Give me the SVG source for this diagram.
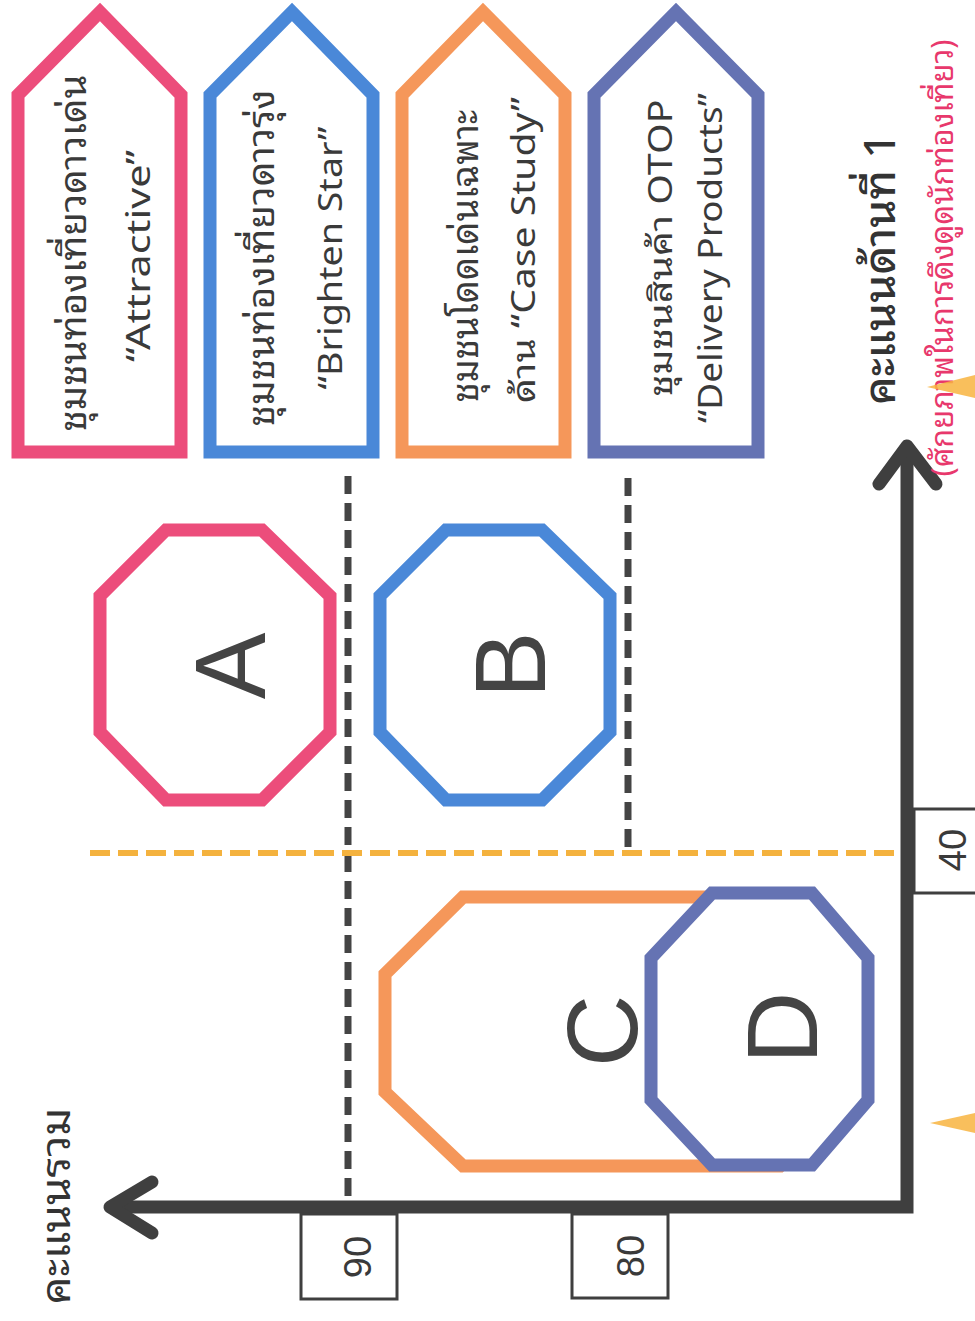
<svg xmlns="http://www.w3.org/2000/svg" width="975" height="1321" viewBox="0 0 975 1321">
<style>
.tag{fill:#fff;stroke-width:13;stroke-linejoin:miter}
.oct{fill:#fff;stroke-width:13;stroke-linejoin:miter}
.pink{stroke:#ec4d7b}
.blue{stroke:#4a88d8}
.orange{stroke:#f5975a}
.slate{stroke:#6573b3}
.t{font-family:"Noto Sans","Noto Sans Thai Looped","Noto Sans Thai","Tahoma",sans-serif;font-size:32px;fill:#3a3a3a;text-anchor:middle}
.th{font-size:37px}
.big{font-family:"Liberation Sans","Arial",sans-serif;font-size:100px;fill:#444;text-anchor:middle}
.tick{font-family:"Liberation Sans","Arial",sans-serif;font-size:38px;fill:#3a3a3a;text-anchor:middle}
.axis{stroke:#3f3f3f;stroke-width:13;fill:none}
.dash{stroke:#444;stroke-width:7;stroke-dasharray:18 9;fill:none}
.odash{stroke:#f4b23e;stroke-width:6;stroke-dasharray:20 8;fill:none}
.tbox{fill:#fff;stroke:#3f3f3f;stroke-width:3}
</style>
<rect width="975" height="1321" fill="#fff"/>

<g id="tag-attractive">
<path class="tag pink" d="M18,452 L18,95 L100,12 L181,95 L181,452 Z"/>
<text class="t th" transform="translate(86,253) rotate(-90)" textLength="357" lengthAdjust="spacingAndGlyphs">ชุมชนท่องเที่ยวดาวเด่น</text>
<text class="t" transform="translate(150,256) rotate(-90)" textLength="212" lengthAdjust="spacingAndGlyphs">“Attractive”</text>
</g>
<g id="tag-brighten">
<path class="tag blue" d="M210,452 L210,95 L292,12 L373,95 L373,452 Z"/>
<text class="t th" transform="translate(274,258) rotate(-90)" textLength="337" lengthAdjust="spacingAndGlyphs">ชุมชนท่องเที่ยวดาวรุ่ง</text>
<text class="t" transform="translate(342,258) rotate(-90)" textLength="263" lengthAdjust="spacingAndGlyphs">“Brighten Star”</text>
</g>
<g id="tag-case">
<path class="tag orange" d="M402,452 L402,95 L483,12 L565,95 L565,452 Z"/>
<text class="t th" transform="translate(478,256) rotate(-90)" textLength="293" lengthAdjust="spacingAndGlyphs">ชุมชนโดดเด่นเฉพาะ</text>
<text class="t" transform="translate(535,250) rotate(-90)" textLength="306" lengthAdjust="spacingAndGlyphs">ด้าน “Case Study”</text>
</g>
<g id="tag-delivery">
<path class="tag slate" d="M594,452 L594,95 L676,12 L758,95 L758,452 Z"/>
<text class="t" transform="translate(672,248) rotate(-90)" textLength="297" lengthAdjust="spacingAndGlyphs">ชุมชนสินค้า OTOP</text>
<text class="t" transform="translate(722,258) rotate(-90)" textLength="330" lengthAdjust="spacingAndGlyphs">“Delivery Products”</text>
</g>

<g id="guides">
<line class="dash" x1="348" y1="476" x2="348" y2="1201"/>
<line class="dash" x1="628" y1="478" x2="628" y2="855"/>
<line class="odash" x1="90" y1="853" x2="895" y2="853"/>
</g>

<g id="node-A">
<polygon class="oct pink" points="166,530 262,530 330,596 330,732 262,800 166,800 100,732 100,596"/>
<text class="big" transform="translate(265,666) rotate(-90)">A</text>
</g>
<g id="node-B">
<polygon class="oct blue" points="446,530 542,530 610,596 610,732 542,800 446,800 380,732 380,596"/>
<text class="big" transform="translate(545,665) rotate(-90)">B</text>
</g>
<g id="node-C">
<polygon class="oct orange" points="463,897 780,897 845,962 845,1101 780,1166 463,1166 385,1092 385,974"/>
<text class="big" transform="translate(637,1031) rotate(-90)">C</text>
</g>
<g id="node-D">
<polygon class="oct slate" points="712,893 812,893 868,958 868,1100 812,1165 712,1165 651,1100 651,958"/>
<text class="big" transform="translate(817,1028) rotate(-90)">D</text>
</g>

<g id="connectors">
<path class="axis" d="M907,446 L907,1207 L110,1207"/>
<path class="axis" stroke-width="14" stroke-linecap="round" stroke-linejoin="round" d="M879,484 L907,446 L936,484"/>
<path class="axis" stroke-width="14" stroke-linecap="round" stroke-linejoin="round" d="M152,1182 L110,1207 L152,1233"/>
</g>

<g id="tick-90">
<rect class="tbox" x="301" y="1214" width="96" height="85"/>
<text class="tick" transform="translate(371,1257) rotate(-90)">90</text>
</g>
<g id="tick-80">
<rect class="tbox" x="572" y="1214" width="96" height="84"/>
<text class="tick" transform="translate(644,1256) rotate(-90)">80</text>
</g>
<g id="tick-40">
<rect class="tbox" x="914" y="809" width="80" height="84"/>
<text class="tick" transform="translate(966,850) rotate(-90)">40</text>
</g>

<g id="axis-labels">
<text class="t" style="font-size:40px;fill:#333" transform="translate(70,1206) rotate(-90)" textLength="197" lengthAdjust="spacingAndGlyphs">คะแนนรวม</text>
<text class="t" style="font-size:43px;font-weight:500;fill:#333" transform="translate(895,269) rotate(-90)" textLength="272" lengthAdjust="spacingAndGlyphs">คะแนนด้านที่ 1</text>
<text class="t" style="font-size:31px;fill:#e8386c" transform="translate(953,258) rotate(-90)" textLength="437" lengthAdjust="spacingAndGlyphs">(ศักยภาพในการดึงดูดนักท่องเที่ยว)</text>
</g>

<g id="marks">
<polygon points="927,387 975,375 975,398" fill="#f8b440" opacity="0.85"/>
<polygon points="930,1123 975,1113 975,1133" fill="#f8b440" opacity="0.85"/>
</g>
</svg>
